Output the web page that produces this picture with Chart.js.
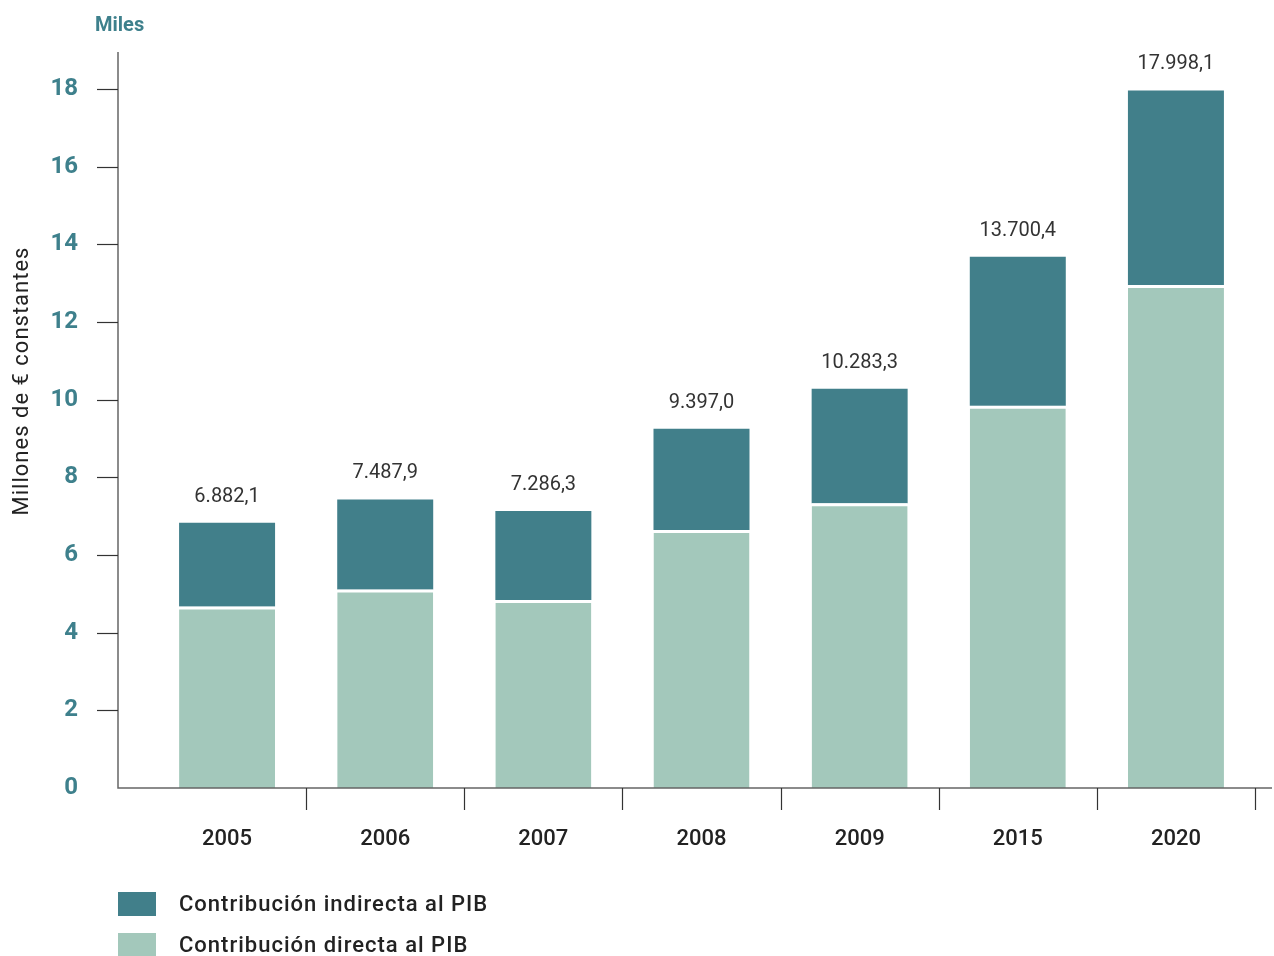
<!DOCTYPE html>
<html>
<head>
<meta charset="utf-8">
<script src="https://cdn.jsdelivr.net/npm/chart.js@4/dist/chart.umd.min.js"></script>
<style>
  html, body { margin: 0; padding: 0; background: #ffffff; }
  #wrap { width: 1274px; height: 956px; position: relative; }
</style>
</head>
<body>
<div id="wrap"><canvas id="c" width="1274" height="956"></canvas></div>
<script>
// ---- data (miles de millones de € constantes) ----
const years = ['2005', '2006', '2007', '2008', '2009', '2015', '2020'];
const directa = [4.67, 5.11, 4.84, 6.64, 7.33, 9.84, 12.95];
const indirecta = [2.16, 2.32, 2.29, 2.61, 2.95, 3.84, 5.01];
const totalLabels = ['6.882,1', '7.487,9', '7.286,3', '9.397,0', '10.283,3', '13.700,4', '17.998,1'];
const yTicks = [0, 2, 4, 6, 8, 10, 12, 14, 16, 18];
const seriesNames = ['Contribución directa al PIB', 'Contribución indirecta al PIB'];
const unitLabel = 'Miles';
const yTitle = 'Millones de € constantes';

const DARK = '#417f8a';
const LIGHT = '#a3c8bb';
const TEAL_TXT = '#3e808c';
const FONT = 'Roboto, "DejaVu Sans", sans-serif';

const decor = {
  id: 'decor',
  afterDraw(chart) {
    const ctx = chart.ctx;
    const x = chart.scales.x, y = chart.scales.y;
    const axisX = 118;
    const baseY = y.getPixelForValue(0);
    ctx.save();
    // axes
    ctx.strokeStyle = '#666';
    ctx.lineWidth = 1.5;
    ctx.beginPath();
    ctx.moveTo(axisX, 52);
    ctx.lineTo(axisX, baseY);
    ctx.lineTo(1272, baseY);
    ctx.stroke();
    // y tick marks
    ctx.strokeStyle = '#333';
    ctx.lineWidth = 1.2;
    yTicks.forEach(v => {
      if (v === 0) return;
      const py = Math.round(y.getPixelForValue(v)) + 0.5;
      ctx.beginPath();
      ctx.moveTo(97, py);
      ctx.lineTo(axisX, py);
      ctx.stroke();
    });
    // x tick marks at category boundaries
    const step = (x.getPixelForValue(1) - x.getPixelForValue(0));
    for (let i = 0; i < years.length; i++) {
      const px = Math.round(x.getPixelForValue(i) + step / 2) + 0.5;
      ctx.beginPath();
      ctx.moveTo(px, baseY);
      ctx.lineTo(px, baseY + 22);
      ctx.stroke();
    }
    // total labels
    const meta = chart.getDatasetMeta(1);
    ctx.fillStyle = '#333';
    ctx.font = '20px ' + FONT;
    ctx.textAlign = 'center';
    ctx.textBaseline = 'middle';
    meta.data.forEach((bar, i) => {
      ctx.fillText(totalLabels[i], bar.x, bar.y - 26);
    });
    // unit label
    ctx.fillStyle = TEAL_TXT;
    ctx.font = 'bold 20px ' + FONT;
    ctx.textAlign = 'left';
    ctx.fillText(unitLabel, 95, 26);
    // y title
    ctx.save();
    ctx.translate(22, 381);
    ctx.rotate(-Math.PI / 2);
    ctx.fillStyle = '#222';
    ctx.font = '22px ' + FONT;
    ctx.letterSpacing = '1px';
    ctx.textAlign = 'center';
    ctx.fillText(yTitle, 0, 0);
    ctx.restore();
    // legend (indirect first)
    const items = [
      { name: seriesNames[1], color: chart.data.datasets[1].backgroundColor, cy: 904 },
      { name: seriesNames[0], color: chart.data.datasets[0].backgroundColor, cy: 945 }
    ];
    ctx.letterSpacing = '1px';
    items.forEach(it => {
      ctx.fillStyle = it.color;
      ctx.fillRect(118, it.cy - 12, 38, 24);
      ctx.fillStyle = '#222';
      ctx.font = '500 22px ' + FONT;
      ctx.textAlign = 'left';
      ctx.textBaseline = 'middle';
      ctx.fillText(it.name, 179, it.cy + 1);
    });
    ctx.restore();
  }
};

new Chart(document.getElementById('c'), {
  type: 'bar',
  data: {
    labels: years,
    datasets: [
      {
        label: seriesNames[0],
        data: directa,
        backgroundColor: LIGHT,
        borderColor: '#ffffff',
        borderWidth: { top: 3, left: 0, right: 0, bottom: 0 },
        borderSkipped: false,
        barPercentage: 1,
        categoryPercentage: 0.607
      },
      {
        label: seriesNames[1],
        data: indirecta,
        backgroundColor: DARK,
        borderWidth: 0,
        barPercentage: 1,
        categoryPercentage: 0.607
      }
    ]
  },
  options: {
    responsive: false,
    animation: false,
    events: [],
    layout: { padding: { top: 50, left: 0, right: 19, bottom: 0 } },
    plugins: { legend: { display: false }, tooltip: { enabled: false }, title: { display: false } },
    scales: {
      x: {
        stacked: true,
        offset: true,
        grid: { display: false },
        border: { display: false },
        ticks: {
          color: '#222',
          font: { family: FONT, size: 22, weight: '500' },
          padding: 30,
          maxRotation: 0
        },
        afterFit(scale) { scale.height = 168; }
      },
      y: {
        stacked: true,
        min: 0,
        max: 19,
        grid: { display: false },
        border: { display: false },
        afterBuildTicks(scale) { scale.ticks = yTicks.map(v => ({ value: v })); },
        ticks: {
          color: TEAL_TXT,
          font: { family: FONT, size: 24, weight: 'bold' },
          padding: 62
        },
        afterFit(scale) {
          scale.width = 148;
          scale.paddingTop = 0;
          scale.paddingBottom = 0;
        }
      }
    }
  },
  plugins: [decor]
});
</script>
</body>
</html>
